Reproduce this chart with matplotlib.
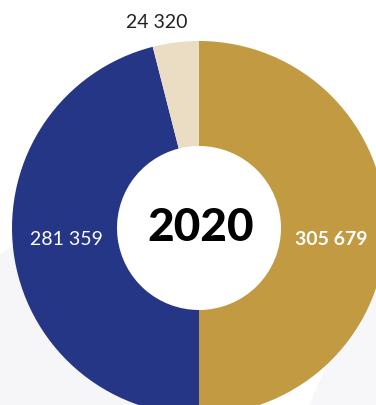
import matplotlib
matplotlib.use('Agg')
import matplotlib.pyplot as plt
from matplotlib.patches import Polygon

# data
labels = ['305 679', '281 359', '24 320']
values = [305679, 281359, 24320]
colors = ['#C29A42', '#263687', '#EADDC4']
year = '2020'

W, H = 376, 406
fig = plt.figure(figsize=(W / 100, H / 100), dpi=100)
ax = fig.add_axes([0, 0, 1, 1])

# faint background shapes
ax.add_patch(Polygon([(0, 0), (0, 150), (30, 170), (110, 60), (160, 0)],
                     closed=True, color='#f6f6f8', zorder=0))
ax.add_patch(Polygon([(310, 0), (376, 0), (376, 110), (345, 80)],
                     closed=True, color='#f7f7f9', zorder=0))

cx, cy = 199, H - 229
R, r = 187, 82
ax.pie(values, colors=colors, startangle=90, counterclock=False,
       center=(cx, cy), radius=R, frame=True,
       wedgeprops=dict(width=R - r, edgecolor='none'))
ax.set_xlim(0, W)
ax.set_ylim(0, H)
ax.set_aspect('equal')
ax.axis('off')

fam = ['Lato', 'DejaVu Sans']
ax.text(cx + 2, H - 228, year, ha='center', va='center', fontsize=33,
        fontweight='black', family=fam, color='black', zorder=5)
ax.text(331, H - 240, labels[0], ha='center', va='center', fontsize=14,
        fontweight='bold', family=fam, color='white', zorder=5)
ax.text(66, H - 240, labels[1], ha='center', va='center', fontsize=14,
        fontweight='normal', family=fam, color='white', zorder=5)
ax.text(157, H - 23, labels[2], ha='center', va='center', fontsize=14,
        fontweight='normal', family=fam, color='#222222', zorder=5)

fig.savefig('out.png', dpi=100)
